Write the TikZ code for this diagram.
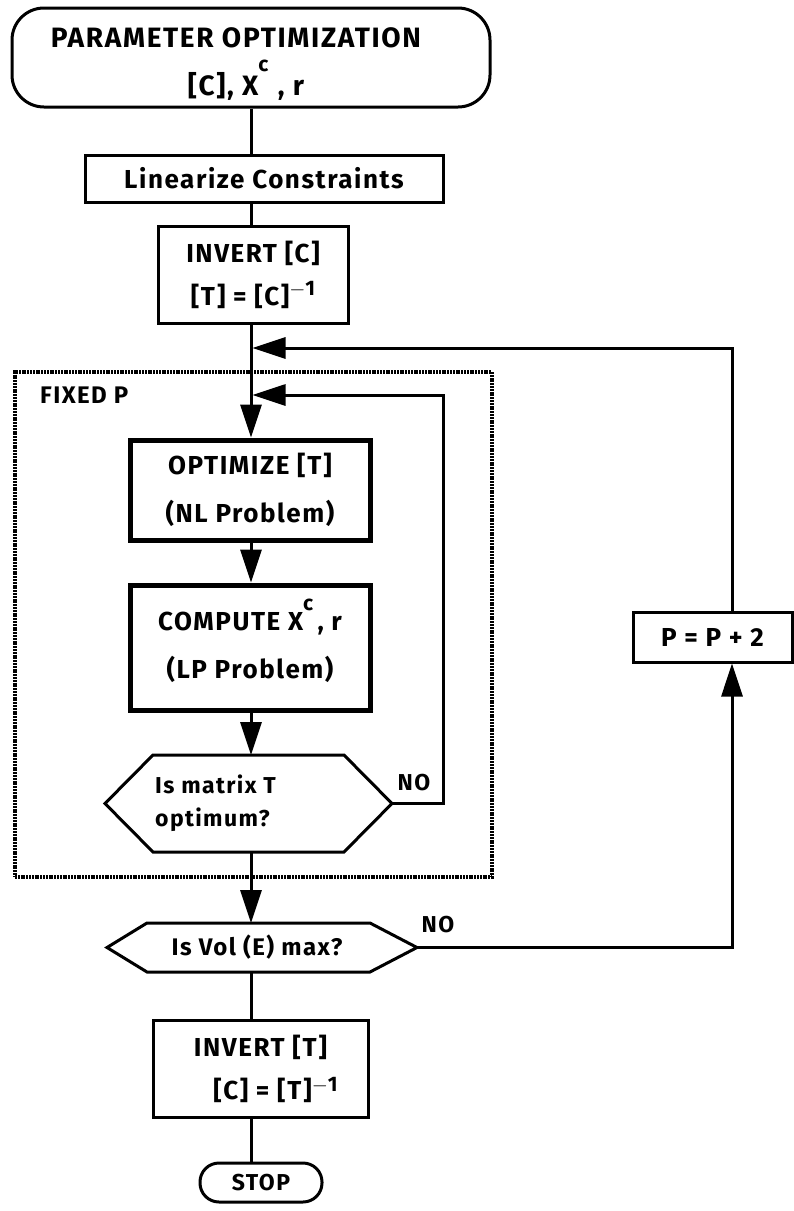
\documentclass[tikz,border=0pt]{standalone}
\usepackage{fontspec}
\setmainfont{Fira Sans}[LetterSpace=6]
\usetikzlibrary{arrows.meta,calc}
\newcommand{\fsz}[2]{\fontsize{#1}{#2}\selectfont}
\newcommand{\supr}[2]{\smash{\raisebox{#1}{\fsz{21}{21}#2}}}
\begin{document}
\begin{tikzpicture}[x=1pt,y=-1pt,
  every node/.style={font=\bfseries\fsz{26}{46}},
  line/.style={line width=3pt},
  arr/.style={line width=3pt,-{Triangle[length=33pt,width=21pt]}},
  box/.style={draw,line width=3pt,align=center,inner sep=0pt},
  thickbox/.style={draw,line width=5pt,align=center,inner sep=0pt},
  hexnode/.style={inner sep=0pt,outer sep=0pt},
  frame/.style={draw,line width=3.5pt,dash pattern=on 2pt off 0.8pt,inner sep=0pt,outer sep=0pt},
  lbl/.style={font=\bfseries\fsz{23}{23}}
]
\useasboundingbox (0,0) rectangle (794,1211);

% nodes
\node[box,rounded corners=32pt,minimum width=478pt,minimum height=99pt] (start) at (251,57.5) {};
\node[inner sep=0pt,align=center,font=\bfseries\fsz{28}{48}] (startt) at (236,64)
  {PARAMETER OPTIMIZATION\\\hspace*{20pt}[C], X\supr{24pt}{c}\,\,, r};
\node[box,minimum width=358pt,minimum height=47pt] (lin) at (264,178.5) {Linearize Constraints};
\node[box,minimum width=190pt,minimum height=97pt,font=\bfseries\fsz{26}{43}] (invC) at (253,274.5)
  {INVERT [C]\\{}[T] = [C]\supr{10pt}{$-$1}};
\node[frame,minimum width=477pt,minimum height=505pt] (fix) at (253.5,624.5) {};
\node[anchor=west,inner sep=0pt,font=\bfseries\fsz{24}{24}] (fixlbl) at (40,395) {FIXED P};
\node[thickbox,minimum width=240pt,minimum height=100pt,font=\bfseries\fsz{26}{48}] (opt) at (250,490)
  {OPTIMIZE [T]\\(NL Problem)};
\node[thickbox,minimum width=240pt,minimum height=125pt,font=\bfseries\fsz{26}{48}] (comp) at (250,647.5)
  {COMPUTE X\supr{20pt}{c}\,, r\\(LP Problem)};
\node[hexnode,minimum width=287pt,minimum height=97pt] (h1) at (248.5,803.5) {};
\node[anchor=west,inner sep=0pt,align=left,font=\bfseries\fsz{23}{33}] (h1t) at (155,803.5)
  {Is matrix T\\optimum?};
\node[hexnode,minimum width=310pt,minimum height=49pt] (h2) at (262,947.5) {};
\node[inner sep=0pt,font=\bfseries\fsz{24}{24}] (h2t) at (257,947.5) {Is Vol (E) max?};
\node[box,minimum width=215pt,minimum height=97pt,font=\bfseries\fsz{26}{43}] (invT) at (260.5,1068.5)
  {INVERT [T]\\\hspace*{30pt}[C] = [T]\supr{8pt}{$-$1}};
\node[box,rounded corners=19pt,minimum width=122pt,minimum height=39pt,font=\bfseries\fsz{23}{23}] (stop) at (261,1182.5) {STOP};
\node[box,minimum width=159pt,minimum height=50pt] (pbox) at (712.5,637) {P = P + 2};
\node[lbl,inner sep=0pt] (no1) at (414,783) {NO};
\node[lbl,inner sep=0pt] (no2) at (438,925) {NO};

% hexagon outlines
\draw[line,line join=miter] (h1.west) -- ([xshift=48pt]h1.north west) -- ([xshift=-48pt]h1.north east)
  -- (h1.east) -- ([xshift=-48pt]h1.south east) -- ([xshift=48pt]h1.south west) -- cycle;
\draw[line,line join=miter] (h2.west) -- ([xshift=40pt]h2.north west) -- ([xshift=-47pt]h2.north east)
  -- (h2.east) -- ([xshift=-47pt]h2.south east) -- ([xshift=40pt]h2.south west) -- cycle;

% coordinates
\coordinate (sp) at (251,0);
\coordinate (ix) at (443,395);
\coordinate (ox) at (732,0);
\coordinate (oy) at (732,348);

% connectors
\draw[line] (start.south -| sp) -- (lin.north -| sp);
\draw[line] (lin.south -| sp) -- (invC.north -| sp);
\draw[arr] (invC.south -| sp) -- (opt.north -| sp);
\draw[arr] (opt.south -| sp) -- (comp.north -| sp);
\draw[arr] (comp.south -| sp) -- (h1.north -| sp);
\draw[arr] (h1.south -| sp) -- (h2.north -| sp);
\draw[line] (h2.south -| sp) -- (invT.north -| sp);
\draw[line] (invT.south -| sp) -- (stop.north -| sp);
\draw[arr] (h1.east) -| (ix) -- ([xshift=1.5pt]ix -| sp);
\draw[arr] (h2.east) -- (h2.east -| ox) -- (pbox.south -| ox);
\draw[arr] (pbox.north -| ox) -- (oy) -- ([xshift=1.5pt]oy -| sp);
\end{tikzpicture}
\end{document}
